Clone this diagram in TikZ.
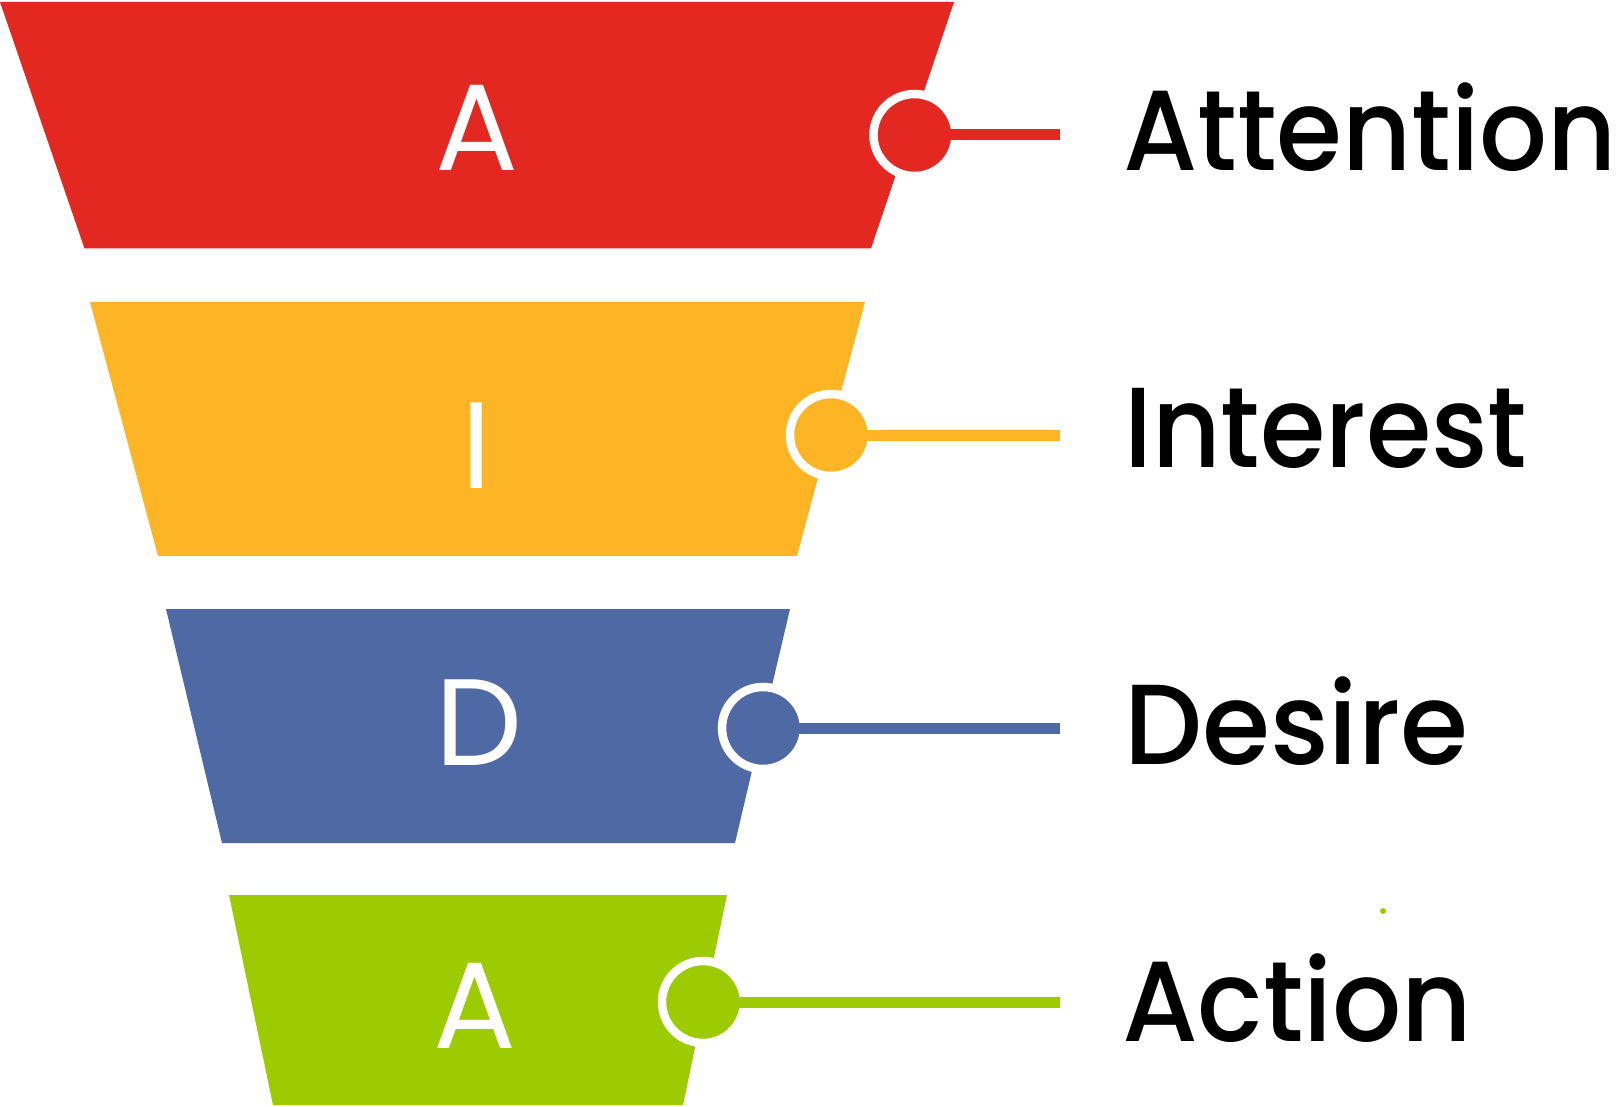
\documentclass[tikz,border=0pt]{standalone}
\usepackage{fontspec}
\setmainfont{Poppins}
\newfontfamily\labelfont{Poppins Medium}
\definecolor{fred}{RGB}{227,40,34}
\definecolor{fyellow}{RGB}{254,181,37}
\definecolor{fblue}{RGB}{79,105,165}
\definecolor{fgreen}{RGB}{155,203,0}
\newcommand{\fitlabel}[2]{\resizebox{#1pt}{\height}{#2}}
\begin{document}
\begin{tikzpicture}[x=1pt,y=-1pt,
  dotnode/.style={circle,fill=#1,draw=white,line width=8.5pt,minimum size=82pt,inner sep=0pt},
  connector/.style={draw=#1,line width=11pt},
  letternode/.style={text=white,font=\fontsize{123}{130}\selectfont,inner sep=0pt,anchor=base},
  labelnode/.style={text=black,font=\labelfont\fontsize{114}{120}\selectfont,inner sep=0pt,anchor=base west}]
\useasboundingbox (0,0) rectangle (1617,1107);
% funnel bands
\fill[fred] (0,2) -- (954,2) -- (871,248.5) -- (84.5,248.5) -- cycle;
\fill[fyellow] (90,302) -- (865,302) -- (797,556) -- (158,556) -- cycle;
\fill[fblue] (166,609) -- (790,609) -- (735,843) -- (222,843) -- cycle;
\fill[fgreen] (229,895) -- (727,895) -- (683,1105) -- (273,1105) -- cycle;
% letters
\node[letternode] (l1) at (477,171) {A};
\node[letternode] (l2) at (477,488) {I};
\node[letternode] (l3) at (479,765) {D};
\node[letternode] (l4) at (474.5,1048) {A};
% dots
\node[dotnode=fred] (c1) at (914.5,135) {};
\node[dotnode=fyellow] (c2) at (831,435) {};
\node[dotnode=fblue] (c3) at (763,728) {};
\node[dotnode=fgreen] (c4) at (703,1002) {};
% connector ends
\coordinate (e1) at (1060,135);
\coordinate (e2) at (1060,435);
\coordinate (e3) at (1060,728);
\coordinate (e4) at (1060,1002);
\draw[connector=fred] (c1.center) -- (e1);
\draw[connector=fyellow] (c2.center) -- (e2);
\draw[connector=fblue] (c3.center) -- (e3);
\draw[connector=fgreen] (c4.center) -- (e4);
\fill[fgreen] (1383,911) circle (3);
% labels
\node[labelnode] (t1) at (1123,171) {\fitlabel{493.5}{Attention}};
\node[labelnode] (t2) at (1124,467) {\fitlabel{403}{Interest}};
\node[labelnode] (t3) at (1124,764) {\fitlabel{344}{Desire}};
\node[labelnode] (t4) at (1122,1041) {\fitlabel{350}{Action}};
\end{tikzpicture}
\end{document}
